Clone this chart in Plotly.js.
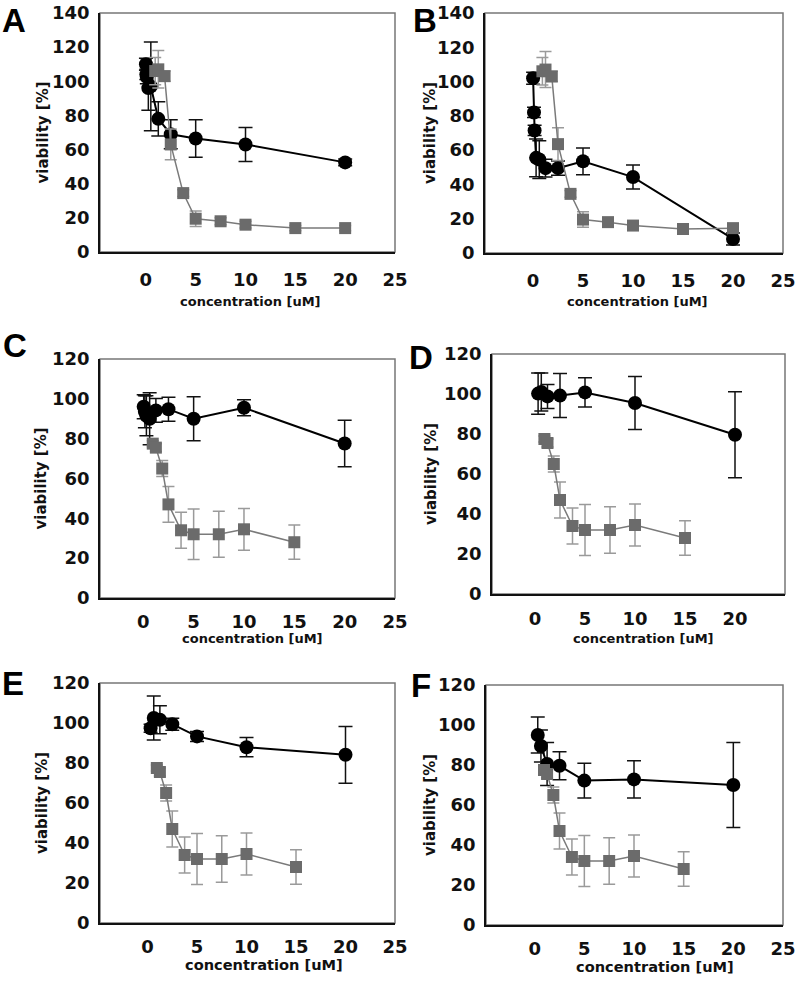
<!DOCTYPE html>
<html>
<head>
<meta charset="utf-8">
<script src="https://cdn.plot.ly/plotly-3.0.1.min.js"></script>
<style>
  body { margin: 0; background: #fff; }
  #chart { width: 797px; height: 983px; }
</style>
</head>
<body>
<div id="chart"></div>
<script>
// grey squares, A and B (reference compound)
let greyX_AB = [0.94, 1.25, 1.88, 2.5, 3.75, 5, 7.5, 10, 15, 20];
let greyY_A = [106, 107, 103, 63, 34.5, 19.5, 18, 16, 14, 14];
let greyE_A = [8, 11, 3, 9, 2, 4.5, 2, 2, 1.5, 1.5];
let greyY_B = [106, 107, 103, 63.5, 34.5, 19.5, 18, 16, 14, 14.5];
let greyE_B = [8, 10.5, 3, 9.5, 2, 4.5, 2, 2, 1.5, 1.5];

// grey squares, C to F
let greyX = [0.94, 1.25, 1.88, 2.5, 3.75, 5, 7.5, 10, 15];
let greyY = [77.5, 75.5, 65, 47, 34, 32, 32, 34.5, 28];
let greyE = [1.5, 2, 4, 9, 9, 12.7, 11.6, 10.5, 8.6];

// black circles
let blackX_A = [0.01, 0.05, 0.1, 0.25, 0.5, 1.25, 2.5, 5, 10, 20];
let blackY_A = [110, 104, 102.5, 96, 97, 78, 69, 66.5, 63, 52.5];
let blackE_A = [3.5, 3, 4, 13, 26, 10, 8.5, 11, 10, 2];

let blackX_B = [0.01, 0.1, 0.16, 0.31, 0.63, 1.25, 2.5, 5, 10, 20];
let blackY_B = [102, 82, 71.5, 55.5, 54.5, 49.5, 49.5, 53.5, 44.3, 8.2];
let blackE_B = [3.5, 3, 3, 11, 11, 5.2, 4.2, 7.8, 7, 3.5];

let blackX_C = [0.04, 0.16, 0.31, 0.63, 1.25, 2.5, 5, 10, 20];
let blackY_C = [96, 93.5, 91.5, 90, 94.2, 94.8, 90, 95.5, 77.6];
let blackE_C = [6, 8, 10, 13, 6, 6, 11, 4, 11.7];

let blackX_D = [0.31, 0.63, 1.25, 2.5, 5, 10, 20];
let blackY_D = [100.2, 101, 98.8, 99.2, 100.8, 95.5, 79.6];
let blackE_D = [10.3, 9.5, 6, 11, 7.3, 13.2, 21.5];

let blackX_E = [0.31, 0.63, 1.25, 2.5, 5, 10, 20];
let blackY_E = [97.4, 102.5, 101.6, 99.4, 93.3, 87.9, 84.1];
let blackE_E = [2, 11, 7, 3, 2.5, 4.8, 14.2];

let blackX_F = [0.31, 0.63, 1.25, 2.5, 5, 10, 20];
let blackY_F = [95, 89.5, 80.5, 79.6, 72.2, 72.8, 70];
let blackE_F = [9, 8, 10.8, 7, 8.7, 9.3, 21.3];

let panelNames = ['A', 'B', 'C', 'D', 'E', 'F'];
let xTickVals = [0, 5, 10, 15, 20, 25];

let W = 797, H = 983;

// plot boxes in pixels: left, top, right, bottom
let boxes = [
	[100, 13, 395, 252],
	[485, 13, 783, 253],
	[100, 359, 395, 598],
	[492, 354, 785, 594],
	[100, 683, 395, 923],
	[486, 685, 783, 925]
];
let xMins = [-4.6, -4.8, -4.3, -4.3, -4.8, -4.9];
let yMaxs = [140, 140, 120, 120, 120, 120];
// gap under the x axis before its tick labels (invisible ticks)
let xGap = [11, 11, 7, 7.5, 7, 7];
// letter position (left, top), x title centre, y title centre x
let letterPos = [[0, 0], [411, 0], [1, 325], [407, 337], [0, 663], [409, 665]];
let xTitleX = [250, 637, 252, 643, 264, 655];
let xTitleY = [301, 301, 638, 638, 964, 966];
let xTitleSize = [13, 13, 13, 13, 14.6, 14.6];
let yTitleX = [42, 430, 40, 431, 42, 430];

let greyData = [
	[greyX_AB, greyY_A, greyE_A],
	[greyX_AB, greyY_B, greyE_B],
	[greyX, greyY, greyE],
	[greyX, greyY, greyE],
	[greyX, greyY, greyE],
	[greyX, greyY, greyE]
];
let blackData = [
	[blackX_A, blackY_A, blackE_A],
	[blackX_B, blackY_B, blackE_B],
	[blackX_C, blackY_C, blackE_C],
	[blackX_D, blackY_D, blackE_D],
	[blackX_E, blackY_E, blackE_E],
	[blackX_F, blackY_F, blackE_F]
];

let tickFont = {family: 'DejaVu Sans', size: 18, weight: 'bold', color: '#111'};

let data = [];
let layout = {
	width: W,
	height: H,
	margin: {l: 0, r: 0, t: 0, b: 0},
	paper_bgcolor: '#fff',
	plot_bgcolor: '#fff',
	showlegend: false,
	shapes: [],
	annotations: []
};

for (let i = 0; i < 6; i++) {
	let n = i + 1;
	let xa = 'x' + (n === 1 ? '' : n);
	let ya = 'y' + (n === 1 ? '' : n);
	let b = boxes[i];

	layout['xaxis' + (n === 1 ? '' : n)] = {
		domain: [b[0] / W, b[2] / W],
		anchor: ya,
		range: [xMins[i], 25],
		tickvals: xTickVals,
		ticks: 'outside',
		ticklen: xGap[i],
		tickcolor: 'rgba(0,0,0,0)',
		showline: true,
		linecolor: '#111',
		linewidth: 1.5,
		showgrid: false,
		zeroline: false,
		tickfont: tickFont
	};
	layout['yaxis' + (n === 1 ? '' : n)] = {
		domain: [1 - b[3] / H, 1 - b[1] / H],
		anchor: xa,
		range: [0, yMaxs[i]],
		dtick: 20,
		ticks: '',
		showline: true,
		linecolor: '#111',
		linewidth: 1.5,
		showgrid: false,
		zeroline: false,
		ticklabelstandoff: 5,
		tickfont: tickFont
	};

	// grey top/right frame
	layout.shapes.push({
		type: 'rect', xref: xa + ' domain', yref: ya + ' domain',
		x0: 0, x1: 1, y0: 0, y1: 1,
		line: {color: '#777', width: 1.5}, layer: 'below'
	});

	let bd = blackData[i];
	data.push({
		x: bd[0], y: bd[1], xaxis: xa, yaxis: ya,
		type: 'scatter', mode: 'lines+markers',
		line: {color: '#000', width: 2},
		marker: {symbol: 'circle', size: 14, color: '#000'},
		error_y: {type: 'data', array: bd[2], visible: true, color: '#111', thickness: 1.5, width: 7}
	});
	let gd = greyData[i];
	data.push({
		x: gd[0], y: gd[1], xaxis: xa, yaxis: ya,
		type: 'scatter', mode: 'lines+markers',
		line: {color: '#7a7a7a', width: 1.5},
		marker: {symbol: 'square', size: 12, color: '#6b6b6b'},
		error_y: {type: 'data', array: gd[2], visible: true, color: '#9a9a9a', thickness: 1.5, width: 6}
	});

	// panel letter
	layout.annotations.push({
		text: panelNames[i], xref: 'paper', yref: 'paper',
		x: letterPos[i][0] / W, y: 1 - letterPos[i][1] / H,
		xanchor: 'left', yanchor: 'top', showarrow: false,
		font: {family: 'Liberation Sans', size: 33, weight: 'bold', color: '#000'}
	});
	// x title
	layout.annotations.push({
		text: 'concentration [uM]', xref: 'paper', yref: 'paper',
		x: xTitleX[i] / W, y: 1 - xTitleY[i] / H,
		xanchor: 'center', yanchor: 'middle', showarrow: false,
		font: {family: 'DejaVu Sans', size: xTitleSize[i], weight: 'bold', color: '#111'}
	});
	// y title
	layout.annotations.push({
		text: 'viability [%]', xref: 'paper', yref: 'paper',
		x: yTitleX[i] / W, y: 1 - ((b[1] + b[3]) / 2) / H,
		xanchor: 'center', yanchor: 'middle', showarrow: false, textangle: -90,
		font: {family: 'DejaVu Sans', size: 15, weight: 'bold', color: '#111'}
	});
}

Plotly.newPlot('chart', data, layout, {displayModeBar: false});
</script>
</body>
</html>
